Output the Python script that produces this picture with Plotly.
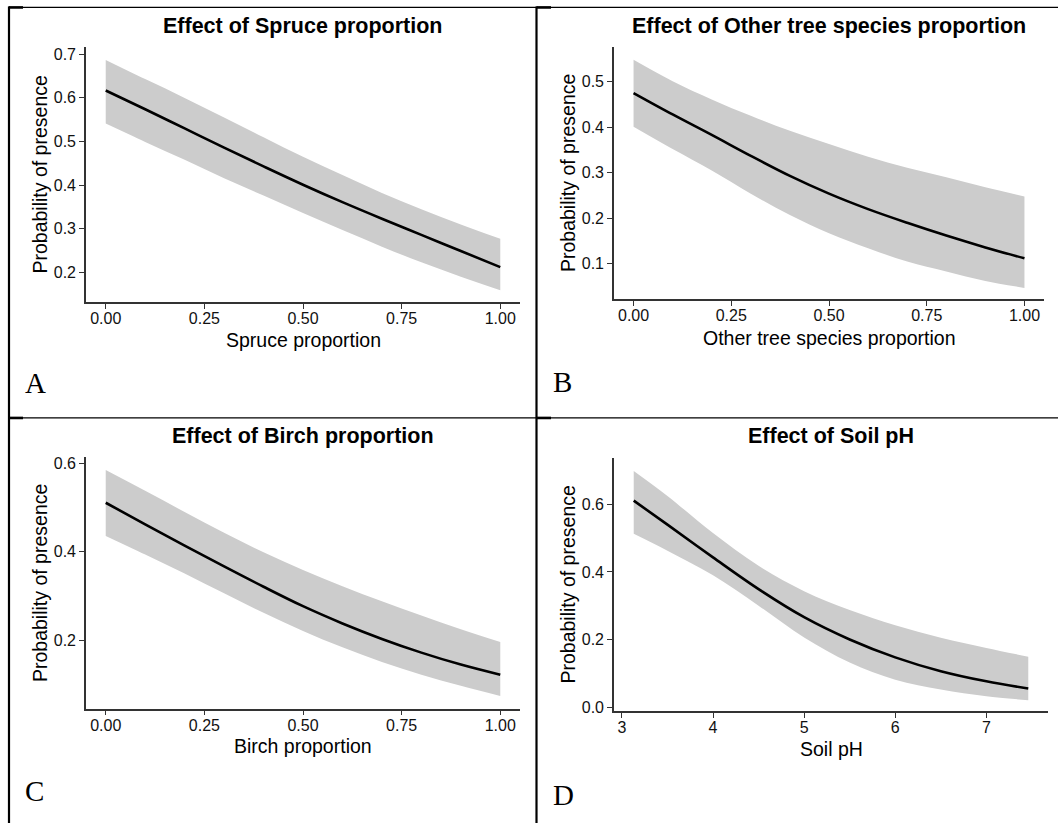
import plotly.graph_objects as go

W, H = 1058, 828

# ---------------- data ----------------
prop_x = [0.0, 0.1, 0.2, 0.3, 0.4, 0.5, 0.6, 0.7, 0.8, 0.9, 1.0]

spruce_fit = [0.617, 0.574, 0.530, 0.486, 0.443, 0.401, 0.361, 0.323, 0.286, 0.249, 0.212]
spruce_hi = [0.687, 0.643, 0.600, 0.555, 0.510, 0.465, 0.423, 0.382, 0.345, 0.310, 0.277]
spruce_lo = [0.541, 0.499, 0.458, 0.416, 0.376, 0.336, 0.297, 0.259, 0.223, 0.190, 0.159]

other_fit = [0.475, 0.428, 0.383, 0.337, 0.293, 0.254, 0.220, 0.190, 0.162, 0.136, 0.112]
other_hi = [0.548, 0.501, 0.461, 0.425, 0.392, 0.363, 0.335, 0.311, 0.290, 0.268, 0.248]
other_lo = [0.401, 0.352, 0.305, 0.254, 0.207, 0.167, 0.134, 0.105, 0.083, 0.062, 0.047]

birch_fit = [0.511, 0.462, 0.414, 0.367, 0.321, 0.277, 0.238, 0.203, 0.172, 0.145, 0.122]
birch_hi = [0.585, 0.538, 0.490, 0.443, 0.399, 0.359, 0.322, 0.288, 0.256, 0.225, 0.196]
birch_lo = [0.436, 0.394, 0.351, 0.306, 0.262, 0.221, 0.184, 0.151, 0.122, 0.097, 0.074]

ph_x = [3.13, 3.5, 4.0, 4.5, 5.0, 5.5, 6.0, 6.5, 7.0, 7.46]
ph_fit = [0.611, 0.540, 0.443, 0.349, 0.266, 0.200, 0.147, 0.106, 0.076, 0.055]
ph_hi = [0.699, 0.625, 0.515, 0.418, 0.343, 0.287, 0.242, 0.205, 0.175, 0.149]
ph_lo = [0.513, 0.463, 0.390, 0.300, 0.206, 0.132, 0.081, 0.052, 0.032, 0.020]

titles = ["Effect of Spruce proportion", "Effect of Other tree species proportion",
          "Effect of Birch proportion", "Effect of Soil pH"]
xtitles = ["Spruce proportion", "Other tree species proportion",
           "Birch proportion", "Soil pH"]
ytitle = "Probability of presence"
letters = ["A", "B", "C", "D"]

prop_ticks = [0.0, 0.25, 0.5, 0.75, 1.0]
prop_ticklabels = ["0.00", "0.25", "0.50", "0.75", "1.00"]
ph_ticks = [3, 4, 5, 6, 7]
ph_ticklabels = ["3", "4", "5", "6", "7"]
ytick_sets = [
    ([0.2, 0.3, 0.4, 0.5, 0.6, 0.7], ["0.2", "0.3", "0.4", "0.5", "0.6", "0.7"]),
    ([0.1, 0.2, 0.3, 0.4, 0.5], ["0.1", "0.2", "0.3", "0.4", "0.5"]),
    ([0.2, 0.4, 0.6], ["0.2", "0.4", "0.6"]),
    ([0.0, 0.2, 0.4, 0.6], ["0.0", "0.2", "0.4", "0.6"]),
]

# ---------------- layout geometry (pixels) ----------------
boxes = [(86, 520, 45, 302.7), (614, 1044, 45, 300),
         (86, 520, 459.3, 712.7), (614, 1048, 460, 715)]
xranges = [[-0.05, 1.05], [-0.05, 1.05], [-0.05, 1.05], [2.9135, 7.6765]]
yranges = [[0.1318, 0.7175], [0.0216, 0.577], [0.0452, 0.6135], [-0.0117, 0.737]]


def px(x):
    return x / W


def py(y):
    return 1 - y / H


series = [
    (prop_x, spruce_fit, spruce_lo, spruce_hi),
    (prop_x, other_fit, other_lo, other_hi),
    (prop_x, birch_fit, birch_lo, birch_hi),
    (ph_x, ph_fit, ph_lo, ph_hi),
]

fig = go.Figure()
FONT = "Liberation Sans, Arial, sans-serif"
AXC = "#333333"

for i, (xs, fit, lo, hi) in enumerate(series):
    sfx = "" if i == 0 else str(i + 1)
    xa, ya = "x" + sfx, "y" + sfx
    fig.add_trace(go.Scatter(
        x=xs, y=lo, mode="lines", line=dict(width=0, shape="spline", color="#cccccc"),
        hoverinfo="skip", showlegend=False, xaxis=xa, yaxis=ya))
    fig.add_trace(go.Scatter(
        x=xs, y=hi, mode="lines", fill="tonexty", fillcolor="#cccccc",
        line=dict(width=0, shape="spline", color="#cccccc"),
        hoverinfo="skip", showlegend=False, xaxis=xa, yaxis=ya))
    fig.add_trace(go.Scatter(
        x=xs, y=fit, mode="lines", line=dict(color="black", width=2.6, shape="spline"),
        showlegend=False, xaxis=xa, yaxis=ya))

    l, r, t, b = boxes[i]
    if i == 3:
        tv, tt = ph_ticks, ph_ticklabels
    else:
        tv, tt = prop_ticks, prop_ticklabels
    yv, yt = ytick_sets[i]
    common = dict(showline=True, linecolor=AXC, linewidth=1.6, ticks="outside",
                  ticklen=5, tickwidth=1.3, tickcolor=AXC, showgrid=False,
                  zeroline=False, tickfont=dict(family=FONT, size=16, color="#111111"),
                  fixedrange=True)
    fig.layout["xaxis" + sfx] = dict(domain=[px(l), px(r)], range=xranges[i],
                                     tickvals=tv, ticktext=tt, anchor=ya,
                                     ticklabelstandoff=-4, **common)
    fig.layout["yaxis" + sfx] = dict(domain=[py(b), py(t)], range=yranges[i],
                                     tickvals=yv, ticktext=yt, anchor=xa, **common)

annotations = []
title_pos = [(303, 24), (829, 24), (303, 438), (831, 438)]
xt_pos = [(303, 341), (829, 338.5), (303, 750), (831, 753)]
yt_pos = [(40, 174), (568, 172.5), (40, 586), (568, 587.5)]
let_pos = [(35, 384), (562, 383), (34, 796), (563, 800)]
for i in range(4):
    annotations.append(dict(text="<b>" + titles[i] + "</b>", x=px(title_pos[i][0]),
                            y=py(title_pos[i][1]), xref="paper", yref="paper",
                            showarrow=False, xanchor="center", yanchor="middle",
                            font=dict(family=FONT, size=21.5, color="black")))
    annotations.append(dict(text=xtitles[i], x=px(xt_pos[i][0]), y=py(xt_pos[i][1]),
                            xref="paper", yref="paper", showarrow=False,
                            xanchor="center", yanchor="middle",
                            font=dict(family=FONT, size=19.5, color="black")))
    annotations.append(dict(text=ytitle, x=px(yt_pos[i][0]), y=py(yt_pos[i][1]),
                            xref="paper", yref="paper", showarrow=False, textangle=-90,
                            xanchor="center", yanchor="middle",
                            font=dict(family=FONT, size=19.5, color="black")))
    annotations.append(dict(text=letters[i], x=px(let_pos[i][0]), y=py(let_pos[i][1]),
                            xref="paper", yref="paper", showarrow=False,
                            xanchor="center", yanchor="middle",
                            font=dict(family="Liberation Serif, Times New Roman, serif",
                                      size=29, color="black")))


def seg(x0, y0, x1, y1, w):
    return dict(type="line", xref="paper", yref="paper", x0=px(x0), y0=py(y0),
                x1=px(x1), y1=py(y1), line=dict(color="black", width=w))


shapes = [
    seg(8, 5.5, 1058, 5.5, 1.2),       # top border
    seg(9, 4.5, 9, 828, 2.2),          # left border
    seg(536.5, 4.5, 536.5, 828, 2.2),  # middle vertical
    seg(8, 419.5, 1058, 419.5, 1.2),   # middle horizontal
    seg(9, 5.5, 23, 5.5, 2.6),         # corner stubs
    seg(536.5, 5.5, 551, 5.5, 2.6),
    seg(9, 419.5, 23, 419.5, 2.6),
    seg(536.5, 419.5, 551, 419.5, 2.6),
]

fig.update_layout(width=W, height=H, margin=dict(l=0, r=0, t=0, b=0),
                  paper_bgcolor="white", plot_bgcolor="white",
                  annotations=annotations, shapes=shapes, showlegend=False)

fig.write_html("out.html")
